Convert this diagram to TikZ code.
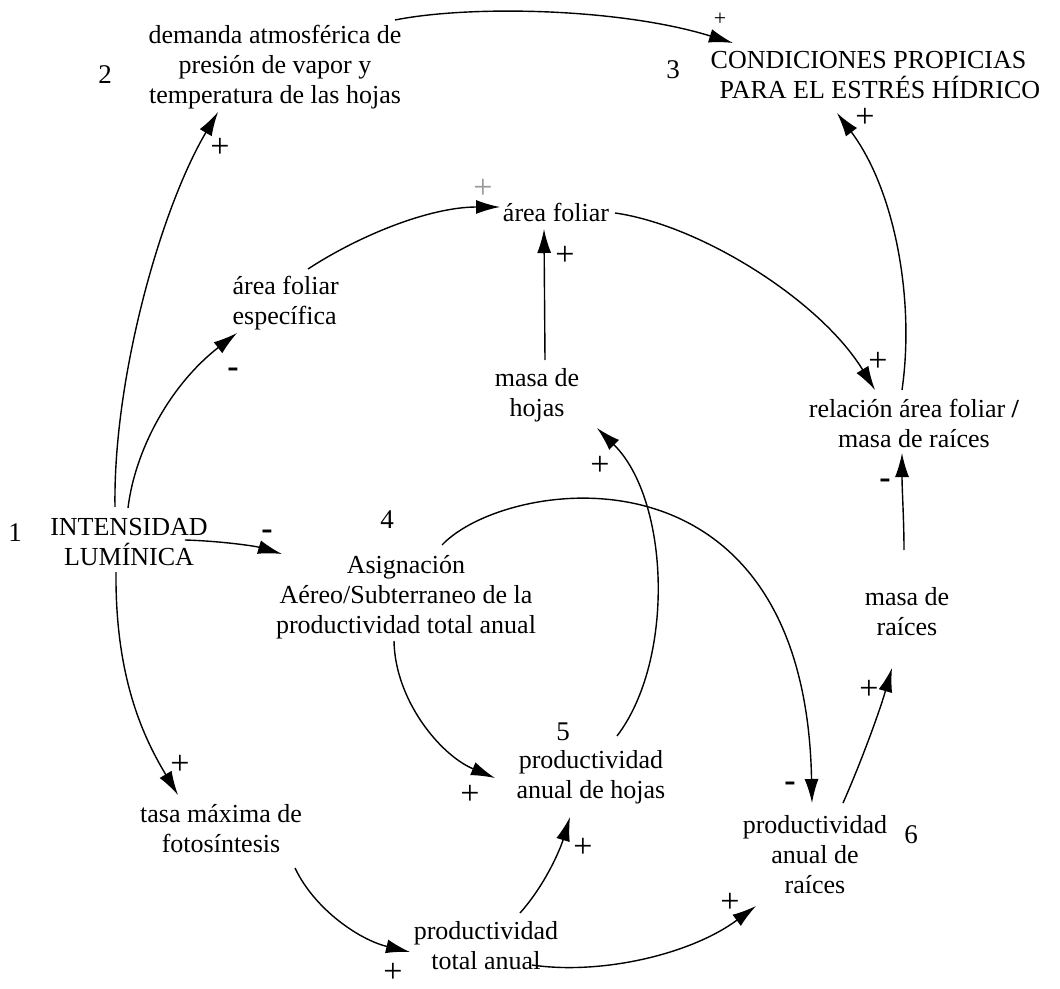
\documentclass[tikz,border=0pt]{standalone}
\usepackage{fontspec}
\setmainfont{Liberation Serif}
\usetikzlibrary{arrows.meta}

\begin{document}
\begin{tikzpicture}[>={Latex[length=12pt,width=7pt]}, x=0.5pt, y=-0.5pt, line width=0.7pt]
      \tikzstyle{every node}=[font=\fontsize{13}{15}\selectfont, inner sep=0pt]
      \tikzstyle{var}=[align=center]
      \tikzstyle{sgn}=[font=\fontsize{17}{17}\selectfont]
      \tikzstyle{num}=[font=\fontsize{13.5}{15}\selectfont]
      \useasboundingbox (0,0) rectangle (1060,989);
      %%
  \node (intens) at (129,542) [var] {INTENSIDAD\\LUMÍNICA};
  \node (demanda) at (275,67) [var] {demanda atmosférica de\\presión de vapor y\\temperatura de las hojas};
  \node (cond) at (710,75) [anchor=west, align=left] {CONDICIONES PROPICIAS\\\hspace{4.5pt}PARA EL ESTRÉS HÍDRICO};
  \node (afol) at (556,212) [var] {área foliar};
  \node (afe) at (232,303) [anchor=west, align=left] {área foliar\\específica};
  \node (mhojas) at (537,395) [var] {masa de\\hojas};
  \node (relacion) at (914,423) [var] {relación área foliar \textbf{/}\\masa de raíces};
  \node (asig) at (406,597) [var] {Asignación\\Aéreo/Subterraneo de la\\productividad total anual};
  \node (mraices) at (907,612) [var] {masa de\\raíces};
  \node (phojas) at (591,777) [var] {productividad\\anual de hojas};
  \node (tasa) at (221,829) [var] {tasa máxima de\\fotosíntesis};
  \node (praices) at (815,855) [var] {productividad\\anual de\\raíces};
  \node (ptotal) at (486,946) [var] {productividad\\total anual};
  %% numbers
  \node (n1) at (15,533) [num] {1};
  \node (n2) at (105,75) [num] {2};
  \node (n3) at (673,70) [num] {3};
  \node (n4) at (387,520) [num] {4};
  \node (n5) at (563,732) [num] {5};
  \node (n6) at (911,835) [num] {6};
  %% links
  \draw [->] ([shift={(-14,-35)}]intens.center) ..controls (113,380) and (160,210) .. ([shift={(-57,45)}]demanda.center);
  \draw [->] ([shift={(120,-47)}]demanda.center) ..controls (470,5) and (620,8) .. ([shift={(23,-32)}]cond.west);
  \draw [->] ([shift={(-1,-34)}]intens.center) ..controls (135,450) and (170,385) .. ([shift={(5,30)}]afe.west);
  \draw [->] ([shift={(76,-34)}]afe.west) ..controls (360,235) and (430,207) .. ([shift={(-56,-5)}]afol.center);
  \draw [->] ([shift={(8,-35)}]mhojas.center) -- ([shift={(-12,17)}]afol.center);
  \draw [->] ([shift={(59,1)}]afol.center) ..controls (700,225) and (820,300) .. ([shift={(-39,-33)}]relacion.center);
  \draw [->] ([shift={(-12,-33)}]relacion.center) ..controls (915,300) and (895,190) .. ([shift={(127,38)}]cond.west);
  \draw [->] ([shift={(-3,-62)}]mraices.center) ..controls (904,520) and (902,490) .. ([shift={(-12,30)}]relacion.center);
  \draw [->] ([shift={(56,-2)}]intens.center) ..controls (220,541) and (255,546) .. ([shift={(-124,-43)}]asig.center);
  \draw [->] ([shift={(36,-52)}]asig.center) ..controls (505,478) and (805,432) .. ([shift={(-3,-52)}]praices.center);
  \draw [->] ([shift={(-12,44)}]asig.center) ..controls (395,700) and (440,755) .. ([shift={(-96,1)}]phojas.center);
  \draw [->] ([shift={(26,-41)}]phojas.center) ..controls (675,660) and (670,500) .. ([shift={(60,33)}]mhojas.center);
  \draw [->] ([shift={(-13,30)}]intens.center) ..controls (115,680) and (145,740) .. ([shift={(-43,-34)}]tasa.center);
  \draw [->] ([shift={(74,39)}]tasa.center) ..controls (315,910) and (360,940) .. ([shift={(-76,6)}]ptotal.center);
  \draw [->] ([shift={(34,-33)}]ptotal.center) ..controls (545,885) and (560,850) .. ([shift={(-21,40)}]phojas.center);
  \draw [->] ([shift={(46,19)}]ptotal.center) ..controls (600,975) and (690,955) .. ([shift={(-59,51)}]praices.center);
  \draw [->] ([shift={(28,-52)}]praices.center) ..controls (862,760) and (880,710) .. ([shift={(-15,56)}]mraices.center);
  %% polarities
  \node (s1) at (220,148) [sgn] {+};
  \node (s2) at (720,19) [font=\fontsize{11}{12}\selectfont] {+};
  \node (s3) at (233,373) [sgn] {\textbf{-}};
  \node (s4) at (483,189) [sgn, text=gray!80] {+};
  \node (s5) at (565,256) [sgn] {+};
  \node (s6) at (878,362) [sgn] {+};
  \node (s7) at (865,118) [sgn] {+};
  \node (s8) at (885,484) [sgn] {\textbf{-}};
  \node (s9) at (267,535) [sgn] {\textbf{-}};
  \node (s10) at (790,787) [sgn] {\textbf{-}};
  \node (s11) at (470,795) [sgn] {+};
  \node (s12) at (600,466) [sgn] {+};
  \node (s13) at (180,765) [sgn] {+};
  \node (s14) at (393,973) [sgn] {+};
  \node (s15) at (583,848) [sgn] {+};
  \node (s16) at (730,903) [sgn] {+};
  \node (s17) at (869,690) [sgn] {+};
%
\end{tikzpicture}
\end{document}
